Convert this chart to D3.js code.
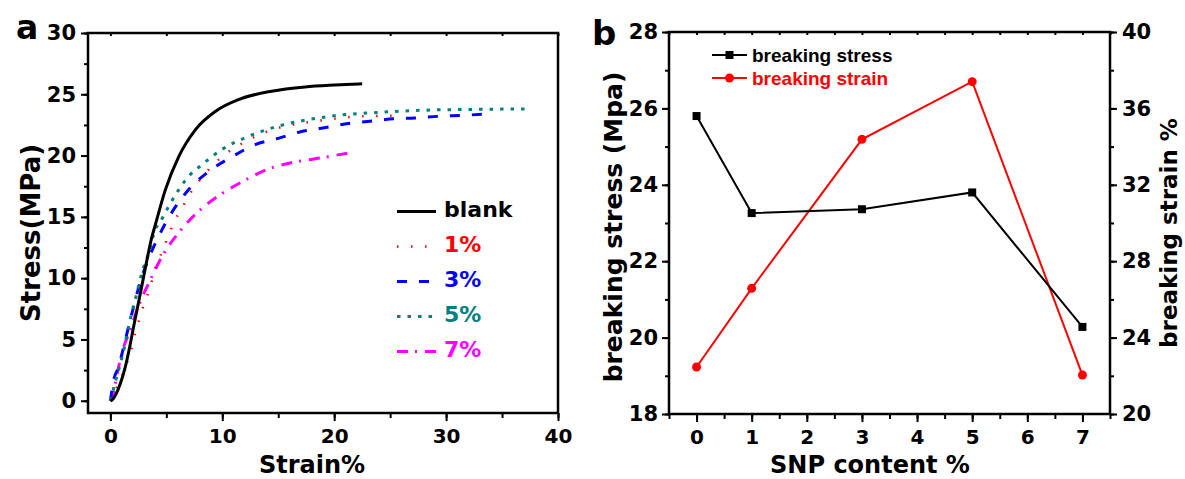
<!DOCTYPE html>
<html>
<head>
<meta charset="utf-8">
<script src="https://cdn.jsdelivr.net/npm/d3@7"></script>
<style>
  body { margin: 0; background: #fff; }
  text { font-family: "DejaVu Sans", sans-serif; font-weight: bold; }
</style>
</head>
<body>
<div id="chart"></div>
<script>
// ---- panel a: stress-strain curves ----
const blankStrain = [0, 0.15, 0.9, 1.34, 1.73, 2.08, 2.44, 2.83, 3.27, 3.72, 4.0, 4.91, 6.1, 7.59, 9.38, 11.46, 14.4, 17.4, 20.0, 22.5];
const blankStress = [0, 0.06, 1.42, 2.78, 4.4, 6.05, 7.68, 9.45, 11.5, 13.4, 14.3, 17.2, 19.9, 22.1, 23.6, 24.57, 25.25, 25.6, 25.75, 25.85];

const p1Strain = [0, 0.6, 1.13, 1.55, 1.93, 2.23, 2.6, 2.98, 3.42, 4.17, 4.7, 5.2, 5.65, 6.4, 7.05, 7.9, 9.0, 10.1, 11.4, 12.6, 13.8, 16.2, 17.5, 19.9, 22.4, 26.1];
const p1Stress = [0, 1.14, 2.24, 3.3, 4.4, 5.6, 6.67, 7.8, 8.9, 11.2, 12.3, 13.5, 14.5, 15.7, 16.8, 17.9, 19.07, 20.0, 20.8, 21.4, 21.9, 22.5, 22.7, 23.0, 23.2, 23.26];

const p3Strain = [0, 0.3, 0.74, 1.19, 1.63, 2.08, 2.68, 3.42, 4.31, 5.36, 6.85, 8.78, 10.87, 12.95, 15.0, 17.0, 19.0, 21.1, 23.2, 25.3, 27.2, 29.3, 31.4, 33.9];
const p3Stress = [0, 1.7, 2.78, 4.4, 6.05, 7.68, 9.72, 11.6, 13.4, 15.17, 17.07, 18.7, 19.9, 20.9, 21.4, 21.95, 22.25, 22.6, 22.8, 23.0, 23.07, 23.2, 23.28, 23.4];

const p5Strain = [0, 0.4, 1.13, 1.79, 2.32, 2.83, 3.42, 4.0, 4.46, 5.2, 6.1, 6.99, 8.19, 9.97, 12.35, 15.0, 17.5, 20.5, 23.5, 28.0, 32.4, 37.3];
const p5Stress = [0, 1.4, 3.87, 6.73, 8.6, 10.5, 12.0, 13.95, 14.6, 15.85, 17.2, 18.3, 19.26, 20.5, 21.57, 22.4, 22.9, 23.3, 23.5, 23.7, 23.77, 23.8];

const p7Strain = [0, 0.15, 0.6, 1.19, 1.79, 2.38, 3.57, 4.76, 6.1, 8.19, 9.97, 12.05, 14.4, 16.07, 18.75, 21.5];
const p7Stress = [0, 0.2, 2.2, 4.4, 5.78, 7.4, 9.86, 12.0, 13.7, 15.7, 16.9, 18.0, 19.0, 19.4, 19.8, 20.25];

const curveLabels = ['blank', '1%', '3%', '5%', '7%'];
const curveColors = ['#000000', '#ff0000', '#0000ff', '#008080', '#ff00ff'];
const curveDashes = [null, '1.5,12.5', '10,12', '3.5,7', '11,7,2,8'];

const aXTicks = [0, 10, 20, 30, 40];
const aYTicks = [0, 5, 10, 15, 20, 25, 30];

// ---- panel b: breaking stress / strain vs SNP content ----
const snpContent = [0, 1, 3, 5, 7];
const breakingStress = [25.8, 23.26, 23.36, 23.8, 20.28];
const breakingStrain = [22.46, 26.58, 34.38, 37.4, 22.04];

const bXTicks = [0, 1, 2, 3, 4, 5, 6, 7];
const bYTicks = [18, 20, 22, 24, 26, 28];
const bY2Ticks = [20, 24, 28, 32, 36, 40];

const svg = d3.select('#chart')
    .append('svg')
    .attr('width', 1185)
    .attr('height', 479);

// panel a scales
const xa = d3.scaleLinear().domain([-2, 40]).range([88, 558]);
const ya = d3.scaleLinear().domain([-1, 30]).range([413, 33]);

function drawAxis(g, axis, fs) {
    g.call(axis);
    g.select('.domain').remove();
    g.selectAll('line').attr('stroke', '#000').attr('stroke-width', 2);
    g.selectAll('text').style('font-size', (fs || 21) + 'px').attr('fill', '#000');
}

// minor ticks
function minorTicks(scale, step) {
    const d = scale.domain();
    const out = [];
    for (let v = Math.ceil(d[0] / step) * step; v <= d[1] + 1e-9; v += step) out.push(+v.toFixed(4));
    return out;
}

// panel a axes
drawAxis(svg.append('g').attr('transform', 'translate(0,413)'),
    d3.axisBottom(xa).tickValues(minorTicks(xa, 5)).tickSize(5).tickFormat(''));
drawAxis(svg.append('g').attr('transform', 'translate(0,413)'),
    d3.axisBottom(xa).tickValues(aXTicks).tickSize(8).tickPadding(8), 20);
drawAxis(svg.append('g').attr('transform', 'translate(0,33)'),
    d3.axisBottom(xa).tickValues(minorTicks(xa, 5)).tickSize(3).tickFormat(''));
drawAxis(svg.append('g').attr('transform', 'translate(88,0)'),
    d3.axisLeft(ya).tickValues(minorTicks(ya, 2.5)).tickSize(4).tickFormat(''));
drawAxis(svg.append('g').attr('transform', 'translate(88,0)'),
    d3.axisLeft(ya).tickValues(aYTicks).tickSize(7).tickPadding(5));

svg.append('rect')
    .attr('x', 88).attr('y', 33)
    .attr('width', 470).attr('height', 380)
    .attr('fill', 'none').attr('stroke', '#000').attr('stroke-width', 2.5);

const lineA = d3.line()
    .x(d => xa(d[0]))
    .y(d => ya(d[1]))
    .curve(d3.curveMonotoneX);

const curveData = [
    d3.zip(blankStrain, blankStress),
    d3.zip(p1Strain, p1Stress),
    d3.zip(p3Strain, p3Stress),
    d3.zip(p5Strain, p5Stress),
    d3.zip(p7Strain, p7Stress)
];

// draw back to front so black is on top at the start
[4, 2, 1, 3, 0].forEach(i => {
    svg.append('path')
        .datum(curveData[i])
        .attr('fill', 'none')
        .attr('stroke', curveColors[i])
        .attr('stroke-width', i === 1 ? 2.5 : 3)
        .attr('stroke-dasharray', curveDashes[i])
        .attr('d', lineA);
});

// legend a
curveLabels.forEach((lab, i) => {
    const yb = 216.5 + i * 35;
    svg.append('line')
        .attr('x1', 397).attr('x2', 436)
        .attr('y1', yb - 5).attr('y2', yb - 5)
        .attr('stroke', curveColors[i])
        .attr('stroke-width', i === 1 ? 2.5 : 3)
        .attr('stroke-dasharray', curveDashes[i]);
    svg.append('text')
        .attr('x', 444).attr('y', yb)
        .style('font-size', '22px')
        .attr('fill', curveColors[i])
        .text(lab);
});

svg.append('text')
    .attr('transform', 'translate(40,233) rotate(-90)')
    .attr('text-anchor', 'middle')
    .style('font-size', '26px')
    .text('Stress(MPa)');

svg.append('text')
    .attr('x', 312).attr('y', 473)
    .attr('text-anchor', 'middle')
    .style('font-size', '24px')
    .text('Strain%');

svg.append('text')
    .attr('x', 16).attr('y', 39)
    .style('font-size', '33px')
    .text('a');

// panel b scales
const xb = d3.scaleLinear().domain([-0.5, 7.5]).range([669, 1110]);
const yb = d3.scaleLinear().domain([18, 28]).range([414, 32]);
const yb2 = d3.scaleLinear().domain([20, 40]).range([414, 32]);

drawAxis(svg.append('g').attr('transform', 'translate(0,414)'),
    d3.axisBottom(xb).tickValues(minorTicks(xb, 0.5)).tickSize(5).tickFormat(''));
drawAxis(svg.append('g').attr('transform', 'translate(0,414)'),
    d3.axisBottom(xb).tickValues(bXTicks).tickSize(8).tickPadding(8), 20);
drawAxis(svg.append('g').attr('transform', 'translate(0,32)'),
    d3.axisBottom(xb).tickValues(minorTicks(xb, 0.5)).tickSize(3).tickFormat(''));
drawAxis(svg.append('g').attr('transform', 'translate(669,0)'),
    d3.axisLeft(yb).tickValues(minorTicks(yb, 1)).tickSize(4).tickFormat(''));
drawAxis(svg.append('g').attr('transform', 'translate(669,0)'),
    d3.axisLeft(yb).tickValues(bYTicks).tickSize(7).tickPadding(4));
drawAxis(svg.append('g').attr('transform', 'translate(1110,0)'),
    d3.axisRight(yb2).tickValues(minorTicks(yb2, 2)).tickSize(4).tickFormat(''));
drawAxis(svg.append('g').attr('transform', 'translate(1110,0)'),
    d3.axisRight(yb2).tickValues(bY2Ticks).tickSize(7).tickPadding(5));

svg.append('rect')
    .attr('x', 669).attr('y', 32)
    .attr('width', 441).attr('height', 382)
    .attr('fill', 'none').attr('stroke', '#000').attr('stroke-width', 2.5);

const stressLine = d3.line().x((d, i) => xb(snpContent[i])).y(d => yb(d));
const strainLine = d3.line().x((d, i) => xb(snpContent[i])).y(d => yb2(d));

svg.append('path')
    .datum(breakingStrain)
    .attr('fill', 'none').attr('stroke', '#ff0000').attr('stroke-width', 2)
    .attr('d', strainLine);
svg.append('path')
    .datum(breakingStress)
    .attr('fill', 'none').attr('stroke', '#000').attr('stroke-width', 2)
    .attr('d', stressLine);

svg.selectAll('.sq')
    .data(breakingStress)
    .enter().append('rect')
    .attr('class', 'sq')
    .attr('x', (d, i) => xb(snpContent[i]) - 4)
    .attr('y', d => yb(d) - 4)
    .attr('width', 8).attr('height', 8)
    .attr('fill', '#000');

svg.selectAll('.dot')
    .data(breakingStrain)
    .enter().append('circle')
    .attr('class', 'dot')
    .attr('cx', (d, i) => xb(snpContent[i]))
    .attr('cy', d => yb2(d))
    .attr('r', 4.5)
    .attr('fill', '#ff0000');

// legend b
const legendB = [
    { label: 'breaking stress', color: '#000', shape: 'square' },
    { label: 'breaking strain', color: '#ff0000', shape: 'circle' }
];
legendB.forEach((d, i) => {
    const ly = 55 + i * 23;
    svg.append('line')
        .attr('x1', 712).attr('x2', 747)
        .attr('y1', ly).attr('y2', ly)
        .attr('stroke', d.color).attr('stroke-width', 2);
    if (d.shape === 'square') {
        svg.append('rect').attr('x', 725.5).attr('y', ly - 4)
            .attr('width', 8).attr('height', 8).attr('fill', d.color);
    } else {
        svg.append('circle').attr('cx', 729.5).attr('cy', ly)
            .attr('r', 4.5).attr('fill', d.color);
    }
    svg.append('text')
        .attr('x', 752).attr('y', ly + 6.5)
        .style('font-family', '"Liberation Sans", Arial, sans-serif')
        .style('font-size', '19px')
        .attr('fill', d.color)
        .text(d.label);
});

svg.append('text')
    .attr('transform', 'translate(622,227) rotate(-90)')
    .attr('text-anchor', 'middle')
    .style('font-size', '25px')
    .text('breaking stress (Mpa)');

svg.append('text')
    .attr('transform', 'translate(1177,233) rotate(-90)')
    .attr('text-anchor', 'middle')
    .style('font-size', '23px')
    .text('breaking strain %');

svg.append('text')
    .attr('x', 870).attr('y', 473)
    .attr('text-anchor', 'middle')
    .style('font-size', '24px')
    .text('SNP content %');

svg.append('text')
    .attr('x', 592).attr('y', 45)
    .style('font-size', '34px')
    .text('b');
</script>
</body>
</html>
